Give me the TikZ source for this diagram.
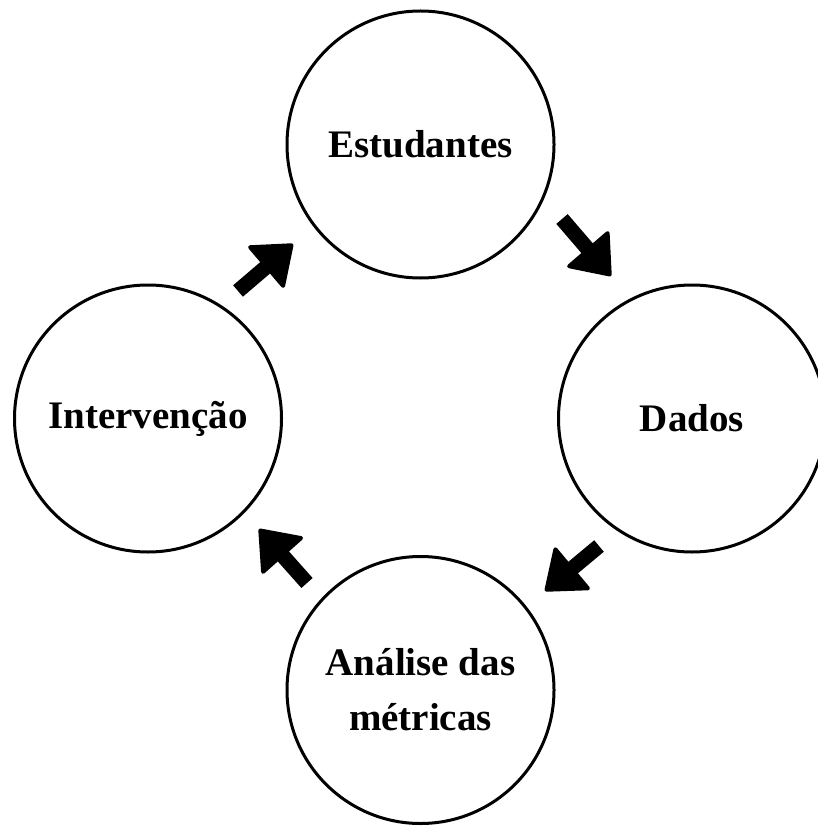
\documentclass[tikz,border=0pt]{standalone}
\usepackage{fontspec}
\setmainfont{Liberation Serif}
\usetikzlibrary{arrows.meta}
\begin{document}
\begin{tikzpicture}[x=1pt,y=-1pt,
  stage/.style={circle, draw=black, line width=3pt, minimum size=267pt, inner sep=0pt,
    align=center, font=\fontsize{39}{55}\selectfont\bfseries},
  blockarrow/.style={line width=15pt, -{Triangle[length=38pt,width=58pt,line width=4pt,round]}}]
\useasboundingbox (0,0) rectangle (817,826);
\node[stage] (est) at (420.5,144.5) {Estudantes};
\node[stage] (dad) at (692,418.5) {Dados};
\node[stage] (ana) at (420.5,690) {Análise das\\métricas};
\node[stage] (int) at (148,418.5) {Intervenção};
\coordinate (a1s) at (562,219);
\coordinate (a1e) at (611,276);
\coordinate (a2s) at (599,546);
\coordinate (a2e) at (545,591);
\coordinate (a3s) at (307,583);
\coordinate (a3e) at (259,529);
\coordinate (a4s) at (238,291);
\coordinate (a4e) at (293,244);
\draw[blockarrow] (a1s) -- (a1e);
\draw[blockarrow] (a2s) -- (a2e);
\draw[blockarrow] (a3s) -- (a3e);
\draw[blockarrow] (a4s) -- (a4e);
\end{tikzpicture}
\end{document}
